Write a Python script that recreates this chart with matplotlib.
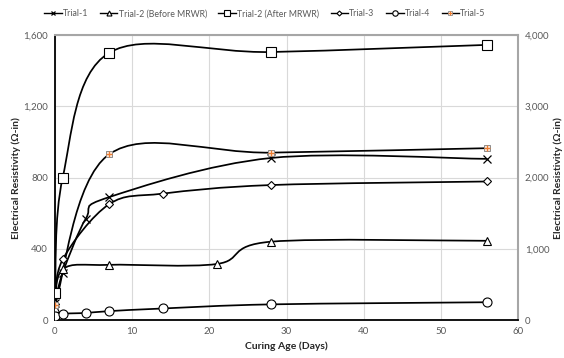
import numpy as np
import matplotlib
matplotlib.use("Agg")
import matplotlib.pyplot as plt
from matplotlib.path import Path
from matplotlib.patches import PathPatch
from matplotlib.lines import Line2D
from matplotlib.legend_handler import HandlerTuple
from matplotlib.ticker import FuncFormatter

plt.rcParams['font.family'] = ['Lato', 'DejaVu Sans']

# data (curing age in days, resistivity in ohm-in)
trial1_x = [0, 1, 4, 7, 28, 56]
trial1_y = [95, 265, 570, 690, 910, 905]

trial2b_x = [0, 1, 7, 21, 28, 56]
trial2b_y = [65, 285, 310, 315, 440, 445]

trial2a_x = [0, 1, 7, 28, 56]
trial2a_y = [150, 800, 1500, 1505, 1545]

trial3_x = [0, 1, 7, 14, 28, 56]
trial3_y = [90, 340, 650, 710, 758, 778]

trial4_x = [0, 1, 4, 7, 14, 28, 56]
trial4_y = [20, 35, 40, 50, 65, 88, 100]

trial5_x = [0, 7, 28, 56]
trial5_y = [85, 930, 940, 965]

labels = ['Trial-1', 'Trial-2 (Before MRWR)', 'Trial-2 (After MRWR)',
          'Trial-3', 'Trial-4', 'Trial-5']

GRAY = '#595959'


def smooth_path(x, y):
    # excel-like smoothed line: bezier segments with catmull-rom control points
    p = np.column_stack([x, y]).astype(float)
    n = len(p)
    verts = [p[0]]
    codes = [Path.MOVETO]
    for i in range(n - 1):
        p0 = p[i - 1] if i > 0 else p[i]
        p3 = p[i + 2] if i + 2 < n else p[i + 1]
        c1 = p[i] + (p[i + 1] - p0) / 6
        c2 = p[i + 1] - (p3 - p[i]) / 6
        verts += [c1, c2, p[i + 1]]
        codes += [Path.CURVE4] * 3
    return Path(verts, codes)


fig = plt.figure(figsize=(5.64, 3.58), dpi=100)
ax = fig.add_axes([0.0975, 0.106, 0.821, 0.796])

series = [
    (trial1_x, trial1_y, dict(marker='x', ms=6, mew=0.9)),
    (trial2b_x, trial2b_y, dict(marker='^', ms=6, mew=0.8)),
    (trial2a_x, trial2a_y, dict(marker='s', ms=6.5, mew=0.8)),
    (trial3_x, trial3_y, dict(marker='D', ms=4.2, mew=0.8)),
    (trial4_x, trial4_y, dict(marker='o', ms=6.5, mew=0.8)),
]

handles = []
for (x, y, mk) in series:
    ax.add_patch(PathPatch(smooth_path(x, y), fill=False, edgecolor='black',
                           lw=1.25, zorder=2))
    ax.plot(x, y, linestyle='none', color='black', mfc='white', mec='black',
            zorder=3, **mk)
    handles.append(Line2D([], [], color='black', lw=1.0, mfc='white',
                          mec='black', **{**mk, 'ms': mk['ms'] * 0.6}))

# trial-5: small square with orange cross
ax.add_patch(PathPatch(smooth_path(trial5_x, trial5_y), fill=False,
                       edgecolor='black', lw=1.25, zorder=2))
ax.plot(trial5_x, trial5_y, linestyle='none', marker='s', ms=5, mfc='#FBE5D6',
        mec='#8C8C8C', mew=0.7, zorder=3)
ax.plot(trial5_x, trial5_y, linestyle='none', marker='+', ms=4,
        mec='#ED7D31', mew=0.9, zorder=4)
h5a = Line2D([], [], color='black', lw=1.0, marker='s', ms=3.5,
             mfc='#FBE5D6', mec='#8C8C8C', mew=0.6)
h5b = Line2D([], [], linestyle='none', marker='+', ms=3, mec='#ED7D31', mew=0.8)
handles.append((h5a, h5b))

ax.set_xlim(0, 60)
ax.set_ylim(0, 1600)
ax.set_xticks(range(0, 61, 10))
ax.set_yticks(range(0, 1601, 400))
ax.yaxis.set_major_formatter(FuncFormatter(lambda v, p: f'{int(v):,}'))
ax.grid(True, color='#D9D9D9', lw=0.8)
ax.set_axisbelow(True)
ax.tick_params(length=0, labelsize=7, labelcolor=GRAY, pad=5)

for s in ['left', 'bottom']:
    ax.spines[s].set_color('black')
    ax.spines[s].set_linewidth(1.3)
for s in ['top', 'right']:
    ax.spines[s].set_color('#A6A6A6')
    ax.spines[s].set_linewidth(1.5)

ax.set_xlabel('Curing Age (Days)', fontsize=7.5, fontweight='bold',
              color='#262626', labelpad=4)
ax.set_ylabel('Electrical Resistivity (Ω-in)', fontsize=7.5, fontweight='bold',
              color='#262626', labelpad=2)

ax2 = ax.twinx()
ax2.set_ylim(0, 4000)
ax2.set_yticks(range(0, 4001, 1000))
ax2.yaxis.set_major_formatter(FuncFormatter(lambda v, p: f'{int(v):,}'))
ax2.tick_params(length=0, labelsize=7, labelcolor=GRAY, pad=5)
for s in ax2.spines.values():
    s.set_visible(False)
ax2.set_ylabel('Electrical Resistivity (Ω-in)', fontsize=7.5, fontweight='bold',
               color='#262626', labelpad=3)

fig.legend(handles, labels, loc='center', bbox_to_anchor=(0.47, 0.962), ncol=6,
           frameon=False, fontsize=6.3, labelcolor=GRAY, handlelength=2.0,
           handletextpad=0.15, columnspacing=1.3,
           handler_map={tuple: HandlerTuple(ndivide=1)})

fig.savefig('out.png', dpi=100)
